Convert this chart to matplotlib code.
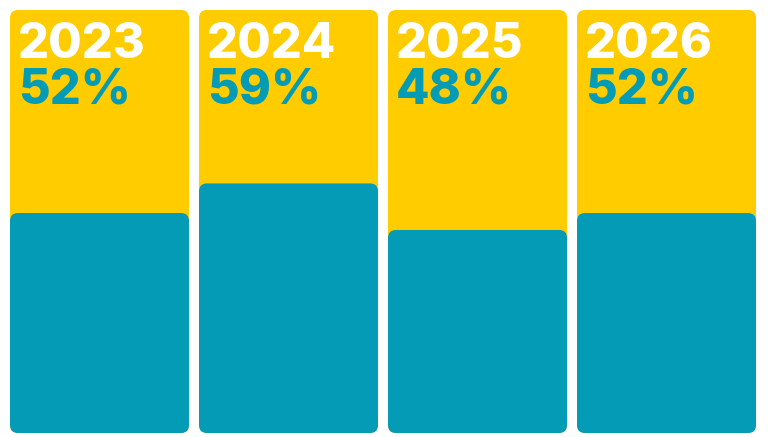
import matplotlib
matplotlib.use("Agg")
import matplotlib.pyplot as plt
from matplotlib.patches import FancyBboxPatch

years = ["2023", "2024", "2025", "2026"]
shares = [52, 59, 48, 52]

YELLOW = "#FFCC00"
TEAL = "#039BB6"

W, H = 768, 437
fig = plt.figure(figsize=(W / 100, H / 100), dpi=100)
ax = fig.add_axes([0, 0, 1, 1])
ax.set_xlim(0, W)
ax.set_ylim(0, H)
ax.axis("off")

left0, pw, step = 10, 179, 189
bottom, top = 4, 427
ph = top - bottom
r = 8

for i, (yr, pct) in enumerate(zip(years, shares)):
    x = left0 + i * step
    ax.add_patch(FancyBboxPatch((x + r, bottom + r), pw - 2 * r, ph - 2 * r,
                                boxstyle=f"round,pad={r}", fc=YELLOW, ec="none"))
    bh = ph * pct / 100
    ax.add_patch(FancyBboxPatch((x + r, bottom + r), pw - 2 * r, bh - 2 * r,
                                boxstyle=f"round,pad={r}", fc=TEAL, ec="none"))
    ax.text(x + 8, top - 12, yr, color="white", fontsize=35, fontweight="heavy",
            family="Inter", va="top", ha="left")
    ax.text(x + 8, top - 57, f"{pct}%", color=TEAL, fontsize=35, fontweight="heavy",
            family="Inter", va="top", ha="left")

fig.savefig("out.png", dpi=100)
